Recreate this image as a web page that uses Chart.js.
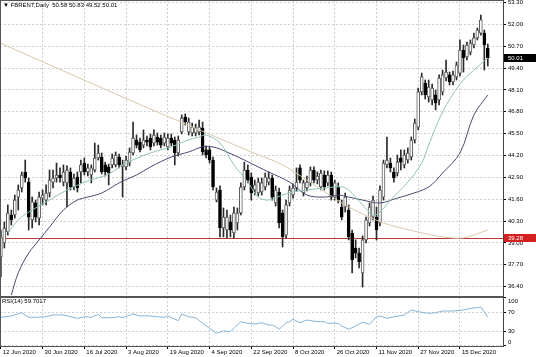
<!DOCTYPE html>
<html><head><meta charset="utf-8">
<script src="https://cdn.jsdelivr.net/npm/chart.js@4.4.0/dist/chart.umd.min.js"></script>
<style>
html,body{margin:0;padding:0;background:#fff;}
#wrap{position:relative;width:536px;height:357px;overflow:hidden;background:#fff;font-family:"Liberation Sans",Arial,sans-serif;}
canvas{position:absolute;left:0;}
.lbl{position:absolute;font-size:6px;color:#000;white-space:pre;line-height:7px;}
</style></head><body>
<div id="wrap">
<canvas id="main" width="536" height="297" style="top:0"></canvas>
<canvas id="rsi" width="536" height="60" style="top:297px"></canvas>
<div class="lbl" id="hdr" style="left:3px;top:2px"></div>
<div class="lbl" id="rsiHdr" style="left:2px;top:298px"></div>
</div>
<script>
const symbol = "FBRENT";
const timeframe = "Daily";
const dateLabels = ["12 Jun 2020","30 Jun 2020","16 Jul 2020","3 Aug 2020","19 Aug 2020","4 Sep 2020","22 Sep 2020","8 Oct 2020","26 Oct 2020","11 Nov 2020","27 Nov 2020","15 Dec 2020"];
const barsPerDateLabel = 12;
const priceTicks = [36.40,37.70,39.00,40.30,41.60,42.90,44.20,45.50,46.80,48.10,49.40,50.70,52.00,53.30];
const rsiTicks = [0,30,70,100];
const supportLevel = 39.28;

const opens = [38.17,39.00,39.65,40.66,40.66,41.73,42.27,43.22,42.62,40.37,41.38,40.48,41.67,41.55,41.97,42.62,42.86,43.04,42.62,42.57,
43.22,42.33,42.92,43.22,43.75,43.22,43.04,43.34,44.05,44.11,43.64,43.52,43.64,43.64,44.11,43.52,43.52,43.75,44.35,45.12,
45.00,44.82,45.12,45.24,44.94,45.30,45.24,44.94,44.71,45.24,45.12,44.35,45.60,46.49,45.60,45.54,45.54,45.60,45.83,44.53,
44.53,43.93,41.55,42.15,39.89,39.77,40.25,39.59,40.19,40.78,42.33,43.34,42.92,42.15,41.97,42.03,42.33,42.62,42.86,41.38,
42.03,40.78,39.47,41.38,41.85,42.27,43.46,41.97,42.27,42.57,43.34,42.74,42.33,43.04,42.57,43.04,41.73,42.33,41.14,41.14,
40.96,39.59,38.70,38.40,37.22,39.18,40.19,40.54,40.54,40.19,41.73,43.64,43.75,43.22,43.16,44.05,43.64,43.93,44.11,45.12,
45.89,47.98,48.51,47.68,47.50,47.80,47.50,47.98,48.81,48.99,48.57,48.87,49.10,50.47,50.06,50.35,50.77,51.19,51.48,51.48,50.58];
const highs = [39.77,40.25,41.26,40.96,41.85,42.45,43.22,43.93,42.86,41.73,41.55,42.03,42.15,42.45,43.34,43.34,43.75,43.46,43.64,43.58,
43.46,43.10,43.22,43.93,44.05,43.69,43.64,44.94,44.82,44.35,43.81,43.69,44.29,44.41,44.29,43.93,44.17,44.65,46.19,45.42,
45.24,45.72,45.36,45.48,45.72,45.54,45.42,45.54,45.48,45.48,45.30,45.36,46.61,46.67,46.43,46.13,46.07,46.31,46.19,44.77,
44.71,44.11,42.27,42.39,41.08,40.96,40.66,41.14,41.08,42.57,43.81,43.64,43.16,42.74,42.86,42.86,43.16,43.22,43.04,42.39,
42.27,40.96,41.55,42.39,42.51,43.46,43.64,42.74,42.98,43.52,43.52,43.22,43.34,43.28,43.28,43.22,42.74,42.57,41.55,41.97,
41.26,39.77,39.18,38.70,39.42,40.54,41.38,41.79,41.14,42.39,43.93,45.30,44.05,43.46,44.23,44.53,44.53,44.65,45.30,46.37,
48.21,49.10,48.69,48.69,48.45,48.09,48.99,49.28,49.88,49.16,49.22,49.76,51.07,50.77,50.95,51.07,51.48,51.78,52.55,51.66,50.83];
const lows = [36.98,38.70,39.47,40.07,40.48,40.96,42.03,42.62,39.77,39.89,40.25,40.07,41.26,41.26,41.73,42.27,42.62,42.62,42.39,41.14,
42.15,42.15,42.03,42.57,43.04,42.98,42.57,43.22,43.93,43.10,42.98,42.45,43.46,43.52,43.46,41.73,43.34,43.58,44.23,44.65,
44.41,44.65,44.77,44.53,44.77,44.82,44.65,44.77,44.53,44.77,43.64,44.17,45.48,46.01,45.42,45.36,45.36,45.42,44.23,44.05,
43.75,42.15,41.44,39.36,39.36,39.30,39.36,39.30,39.77,40.66,42.15,42.57,41.55,41.85,41.79,41.85,42.15,42.45,41.55,41.20,
39.89,38.76,39.30,41.20,41.67,42.09,42.57,41.79,42.09,42.39,42.57,42.51,42.15,42.15,42.39,41.55,41.55,41.38,40.37,40.84,
39.18,37.22,38.11,37.51,36.38,39.00,40.01,40.37,39.18,40.01,41.55,43.46,43.22,42.62,42.98,43.34,43.46,43.75,43.93,44.94,
45.72,47.80,47.56,47.38,47.20,46.91,47.20,47.80,48.63,48.39,48.39,48.69,48.93,49.16,49.88,50.18,50.59,51.07,51.36,49.28,49.52];
const closes = [39.36,39.89,40.78,40.37,41.55,42.15,43.04,42.86,40.54,41.44,40.54,41.73,41.85,41.97,42.74,42.86,43.04,42.86,43.22,43.34,
42.33,42.86,42.27,43.64,43.22,43.46,43.46,44.05,44.35,43.22,43.22,43.16,44.05,44.23,43.64,43.64,43.93,44.41,45.24,44.82,
44.53,45.12,45.00,44.71,45.42,45.00,44.82,45.30,45.24,44.94,44.35,45.12,46.43,46.19,46.19,45.89,45.83,45.89,44.41,44.23,
43.93,42.33,42.03,39.89,40.54,40.54,39.77,40.78,40.78,42.33,43.34,42.74,41.97,42.45,42.62,42.57,42.92,42.86,41.73,42.15,
40.19,39.36,41.26,42.15,42.27,42.62,42.74,42.57,42.62,43.34,42.74,42.98,43.16,42.33,43.04,41.73,42.57,41.55,40.54,41.73,
39.36,37.99,38.40,37.87,39.18,40.37,41.14,41.55,39.77,42.15,43.75,43.93,43.46,42.86,43.81,43.81,44.23,44.35,45.12,46.13,
47.98,48.87,47.80,48.27,48.21,47.32,48.81,48.99,49.16,48.57,48.99,49.58,50.47,50.00,50.77,50.89,51.19,51.66,52.26,50.77,50.01];

const fastMaIdx  = [2,5,9,14,19,25,31,36,43,49,53,57,59,63,67,71,74,77,81,84,88,93,98,100,104,107,109,112,117,121,123,127,132,136,140];
const fastMaVals = [39.59,40.37,40.96,41.55,42.15,42.68,43.10,43.75,44.35,44.71,45.06,45.30,45.42,44.94,43.64,42.62,41.73,41.55,41.85,42.03,42.15,42.27,42.33,42.15,41.26,40.66,40.84,41.55,42.62,43.75,44.82,46.79,48.45,49.28,50.00];
const slowMaIdx  = [3,5,8,11,14,18,22,25,29,34,37,39,43,49,54,58,61,65,70,74,77,83,88,93,97,100,104,109,114,117,123,127,132,136,140];
const slowMaVals = [35.90,37.22,38.40,39.18,39.95,40.96,41.55,41.73,41.97,42.57,42.86,43.04,43.52,44.11,44.41,44.71,44.71,44.41,43.93,43.52,43.22,42.62,41.85,41.73,41.85,41.73,41.55,41.38,41.67,41.85,42.33,43.16,44.35,46.61,47.80];
const longMaIdx  = [0,37,72,81,91,100,110,120,127,133,140];
const longMaVals = [50.87,47.50,44.41,43.64,42.33,41.14,40.19,39.65,39.36,39.30,39.77];

const rsiIdx  = [0,3,6,8,10,13,15,18,20,22,24,26,28,29,32,34,35,38,40,42,45,47,48,51,52,54,56,58,60,62,64,66,69,71,73,75,77,78,79,80,82,83,84,86,88,91,93,94,96,97,98,100,102,104,106,108,109,111,113,116,118,120,123,125,127,130,133,135,137,138,139,140];
const rsiVals = [59,61.7,68.5,59,59,60.2,63.8,63.8,60.2,57,60.2,59,65.2,58.2,58.2,60.2,58.2,65.8,61.7,62.3,60.2,59,61.7,52,65.8,60.2,58.2,46.6,36.2,25.9,30.6,29.2,49.9,46.6,45.1,47.8,43.1,43.1,39.5,34.2,47.8,49.9,54.9,47.8,53.4,49.9,49.9,46.6,46.6,46.6,41,34.2,41,48.7,44.5,60.2,61.7,57,60.2,63.8,74.1,70.6,67.3,68.5,72,72,74.1,77.6,79,80.5,70,59.7017];

// ---------- build ----------
const N = closes.length;
const last = N - 1;
document.getElementById('hdr').textContent = "\u25BC " + symbol + "," + timeframe + "  " +
  [opens[last], highs[last], lows[last], closes[last]].map(v => v.toFixed(2)).join(" ");
document.getElementById('rsiHdr').textContent = "RSI(14) " + rsiVals[rsiVals.length - 1].toFixed(4);

const X_MIN = -0.25, X_MAX = 144.37;
const dateTickPos = dateLabels.map((_, k) => k * barsPerDateLabel);
const FONT = {family: "'Liberation Sans', Arial, sans-serif", size: 6};
const GRID = '#d0d0d0';
const zeroPad = s => { s.paddingTop = 0; s.paddingBottom = 0; s.paddingLeft = 0; s.paddingRight = 0; };
const isBull = i => closes[i] >= opens[i];

const wickData = closes.map((c, i) => ({x: i, y: [lows[i], highs[i]]}));
const bodyData = closes.map((c, i) => ({x: i, y: [opens[i], c]}));
const pts = (ix, vs) => ix.map((x, k) => ({x, y: vs[k]}));

const framePlugin = {
  id: 'frame',
  beforeDatasetsDraw(chart, args, opts) {
    if (!opts.level) return;
    const {ctx, chartArea: a, scales} = chart;
    const y = Math.round(scales.y.getPixelForValue(opts.level)) + 0.5;
    ctx.save();
    ctx.strokeStyle = '#b83a34'; ctx.lineWidth = 1;
    ctx.beginPath(); ctx.moveTo(a.left, y); ctx.lineTo(a.right, y); ctx.stroke();
    ctx.restore();
  },
  afterDraw(chart, args, opts) {
    const {ctx, chartArea: a, scales} = chart;
    ctx.save();
    ctx.strokeStyle = '#555'; ctx.lineWidth = 1;
    ctx.beginPath();
    ctx.moveTo(a.left + 0.5, a.top); ctx.lineTo(a.left + 0.5, a.bottom);
    if (opts.top) { ctx.moveTo(a.left, a.top + 0.5); ctx.lineTo(a.right, a.top + 0.5); }
    ctx.moveTo(a.left, Math.round(a.bottom) + 0.5); ctx.lineTo(a.right, Math.round(a.bottom) + 0.5);
    ctx.stroke();
    (opts.boxes || []).forEach(b => {
      const y = scales.y.getPixelForValue(b.value);
      ctx.fillStyle = b.bg;
      ctx.fillRect(a.right + 1, Math.round(y) - 4, 33, 8);
      ctx.fillStyle = '#fff';
      ctx.font = "6px 'Liberation Sans', Arial, sans-serif";
      ctx.textBaseline = 'middle'; ctx.textAlign = 'left';
      ctx.fillText(b.value.toFixed(2), a.right + 5, Math.round(y));
    });
    ctx.restore();
  }
};

new Chart(document.getElementById('main'), {
  type: 'bar',
  data: {
    datasets: [
      {type: 'line', data: pts(fastMaIdx, fastMaVals), borderColor: '#93c3b8', borderWidth: 1, pointRadius: 0, tension: 0.35, order: 0},
      {type: 'line', data: pts(slowMaIdx, slowMaVals), borderColor: '#4a4a72', borderWidth: 1, pointRadius: 0, tension: 0.35, order: 1},
      {type: 'line', data: pts(longMaIdx, longMaVals), borderColor: '#d8c8aa', borderWidth: 1, pointRadius: 0, tension: 0.3, order: 2},
      {data: bodyData, barThickness: 3, grouped: false, borderSkipped: false, borderWidth: 1,
        borderColor: c => (isBull(c.dataIndex) ? '#5a5a5a' : '#000000'),
        backgroundColor: c => (isBull(c.dataIndex) ? '#ffffff' : '#000000'), order: 3},
      {data: wickData, barThickness: 1, grouped: false, backgroundColor: '#2a2a2a', order: 4}
    ]
  },
  options: {
    responsive: false, animation: false, devicePixelRatio: 1, events: [],
    layout: {padding: 0},
    plugins: {legend: {display: false}, tooltip: {enabled: false},
      frame: {top: true, level: supportLevel, boxes: [{value: closes[last], bg: '#000'}, {value: supportLevel, bg: '#d42020'}]}},
    scales: {
      x: {type: 'linear', min: X_MIN, max: X_MAX, offset: false,
        afterBuildTicks: s => { s.ticks = dateTickPos.map(v => ({value: v})); },
        ticks: {display: false}, grid: {color: GRID, drawTicks: false, offset: false},
        border: {display: false, dash: [2, 2]},
        afterFit: s => { s.height = 1; zeroPad(s); }},
      y: {position: 'right', min: 35.847, max: 53.445,
        afterBuildTicks: s => { s.ticks = priceTicks.map(v => ({value: v})); },
        ticks: {font: FONT, color: '#000', padding: 2, autoSkip: false, callback: v => Number(v).toFixed(2)},
        grid: {color: GRID, drawTicks: true, tickLength: 3, tickColor: '#000'},
        border: {display: true, color: '#444', dash: [2, 2]},
        afterFit: s => { s.width = 33; zeroPad(s); }}
    }
  },
  plugins: [framePlugin]
});

new Chart(document.getElementById('rsi'), {
  type: 'line',
  data: {datasets: [{data: pts(rsiIdx, rsiVals), borderColor: '#86b4d8', borderWidth: 1, pointRadius: 0, tension: 0}]},
  options: {
    responsive: false, animation: false, devicePixelRatio: 1, events: [],
    layout: {padding: 0},
    plugins: {legend: {display: false}, tooltip: {enabled: false}, frame: {top: true}},
    scales: {
      x: {type: 'linear', min: X_MIN, max: X_MAX, offset: false,
        afterBuildTicks: s => { s.ticks = dateTickPos.map(v => ({value: v})); },
        ticks: {font: FONT, color: '#000', align: 'start', labelOffset: 2, padding: 0, maxRotation: 0, autoSkip: false,
          callback: (v, k) => dateLabels[k]},
        grid: {color: GRID, drawTicks: true, tickLength: 3, tickColor: '#000', offset: false},
        border: {display: false, dash: [2, 2]},
        afterFit: s => { s.height = 11; zeroPad(s); }},
      y: {position: 'right', min: -0.47, max: 101.09,
        afterBuildTicks: s => { s.ticks = rsiTicks.map(v => ({value: v})); },
        ticks: {font: FONT, color: '#000', padding: 2, autoSkip: false,
          callback: v => v === 100 ? ['', '100'] : (v === 0 ? ['0', ''] : String(v))},
        grid: {color: GRID, drawTicks: true, tickLength: 3, tickColor: '#000'},
        border: {display: true, color: '#444', dash: [2, 2]},
        afterFit: s => { s.width = 33; zeroPad(s); }}
    }
  },
  plugins: [framePlugin]
});
</script>
</body></html>
